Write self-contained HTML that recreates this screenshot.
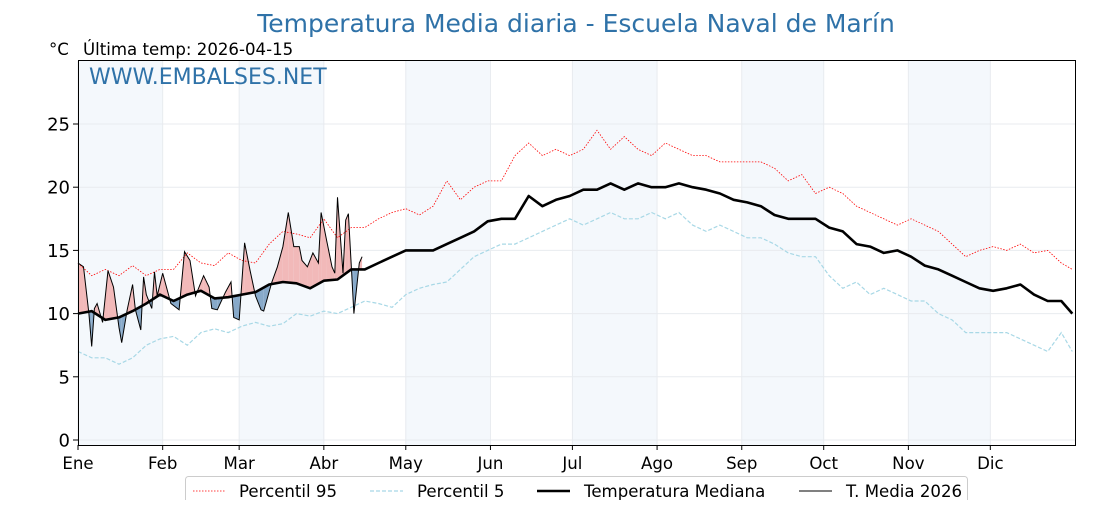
<!DOCTYPE html>
<html><head><meta charset="utf-8"><style>
body{margin:0;background:#fff;}
svg text{font-family:"DejaVu Sans","Liberation Sans",sans-serif;}
</style></head><body>
<svg id="chart" width="1120" height="500" xmlns="http://www.w3.org/2000/svg">
<text x="576" y="32" text-anchor="middle" font-size="25" fill="#2f72a8">Temperatura Media diaria - Escuela Naval de Marín</text>
<text x="49" y="55" font-size="16.6" fill="#000">°C</text>
<text x="83" y="55" font-size="16.6" fill="#000">Última temp: 2026-04-15</text>
<g id="bands"></g><g id="grid"></g><g id="fills"></g><g id="lines"></g>
<text x="89" y="84" font-size="22" fill="#2f72a8">WWW.EMBALSES.NET</text>
<rect x="78.5" y="60.5" width="997" height="385" fill="none" stroke="#000" stroke-width="1"/>
<g id="axes"></g>
<g>
<rect x="185.5" y="476.5" width="782" height="30" rx="3" fill="#fff" stroke="#ccc"/>
<g><line x1="193" y1="491" x2="225" y2="491" stroke="red" stroke-width="0.8" stroke-dasharray="1.5,1.5"/><text x="239" y="497" font-size="16.6">Percentil 95</text></g>
<g><line x1="370" y1="491" x2="403" y2="491" stroke="#a8d8e6" stroke-width="1.2" stroke-dasharray="4,2"/><text x="417" y="497" font-size="16.6">Percentil 5</text></g>
<g><line x1="537" y1="491" x2="570" y2="491" stroke="#000" stroke-width="2.6"/><text x="584" y="497" font-size="16.6">Temperatura Mediana</text></g>
<g><line x1="799" y1="491" x2="832" y2="491" stroke="#000" stroke-width="1"/><text x="846" y="497" font-size="16.6">T. Media 2026</text></g>
</g>
</svg>
<script>
const months=["Ene","Feb","Mar","Abr","May","Jun","Jul","Ago","Sep","Oct","Nov","Dic"];
const monthStarts=[0,31,59,90,120,151,181,212,243,273,304,334];
const yTicks=[0,5,10,15,20,25];
const step=5;
const median=[10.0,10.2,9.5,9.7,10.2,10.8,11.5,11.0,11.5,11.8,11.2,11.3,11.5,11.7,12.3,12.5,12.4,12.0,12.6,12.7,13.5,13.5,14.0,14.5,15.0,15.0,15.0,15.5,16.0,16.5,17.3,17.5,17.5,19.3,18.5,19.0,19.3,19.8,19.8,20.3,19.8,20.3,20.0,20.0,20.3,20.0,19.8,19.5,19.0,18.8,18.5,17.8,17.5,17.5,17.5,16.8,16.5,15.5,15.3,14.8,15.0,14.5,13.8,13.5,13.0,12.5,12.0,11.8,12.0,12.3,11.5,11.0,11.0,10.0];
const p95=[14,13,13.5,13,13.8,13,13.5,13.5,14.8,14.0,13.8,14.8,14.2,14.0,15.5,16.5,16.3,16.0,17.5,16.0,16.8,16.8,17.5,18.0,18.3,17.8,18.5,20.5,19.0,20.0,20.5,20.5,22.5,23.5,22.5,23.0,22.5,23.0,24.5,23.0,24.0,23.0,22.5,23.5,23.0,22.5,22.5,22.0,22.0,22.0,22.0,21.5,20.5,21.0,19.5,20.0,19.5,18.5,18.0,17.5,17.0,17.5,17.0,16.5,15.5,14.5,15.0,15.3,15.0,15.5,14.8,15.0,14.0,13.5];
const p5=[7,6.5,6.5,6,6.5,7.5,8.0,8.2,7.5,8.5,8.8,8.5,9.0,9.3,9.0,9.2,10.0,9.8,10.2,10.0,10.5,11.0,10.8,10.5,11.5,12.0,12.3,12.5,13.5,14.5,15.0,15.5,15.5,16.0,16.5,17.0,17.5,17.0,17.5,18.0,17.5,17.5,18.0,17.5,18.0,17.0,16.5,17.0,16.5,16.0,16.0,15.5,14.8,14.5,14.5,13.0,12.0,12.5,11.5,12.0,11.5,11.0,11.0,10.0,9.5,8.5,8.5,8.5,8.5,8.0,7.5,7.0,8.5,7.0];
const days2026=[0,2,4,5,6,7,9,11,13,15,16,18,20,21,23,24,25,27,28,29,31,34,37,39,41,43,46,48,49,51,54,56,57,59,61,63,65,67,68,71,73,75,77,79,81,82,84,86,88,89,91,93,94,95,97,98,99,101,103,104];
const t2026=[14.0,13.7,10.0,7.4,10.4,10.8,9.3,13.4,12.1,8.9,7.7,10.3,12.3,10.3,8.7,12.9,11.5,10.4,13.3,11.4,13.2,10.8,10.3,14.9,14.2,11.4,13.0,12.1,10.4,10.3,11.7,12.5,9.7,9.5,15.6,13.4,11.4,10.3,10.2,12.5,13.7,15.3,18.0,15.3,15.3,14.2,13.7,14.8,14.0,18.0,15.8,13.7,13.2,19.2,13.2,17.4,17.9,10.0,14.0,14.5];

const NS="http://www.w3.org/2000/svg";
const X=d=>78+d*997/365;
const Y=v=>440-v*12.64;
function mk(tag,attrs,parent){const e=document.createElementNS(NS,tag);for(const k in attrs)e.setAttribute(k,attrs[k]);document.getElementById(parent).appendChild(e);return e;}
monthStarts.forEach((m,i)=>{if(i%2===0){const end=i+1<12?monthStarts[i+1]:365;
const r=mk('rect',{x:X(m),y:61,width:X(end)-X(m),height:384,fill:'#f4f8fc'},'bands');

}});
yTicks.forEach(t=>{const l=mk('line',{x1:78,x2:1075,y1:Y(t),y2:Y(t),stroke:'#e8ebef','stroke-width':1},'grid');


const tk=mk('line',{x1:73,x2:78,y1:Y(t),y2:Y(t),stroke:'#000'},'axes');


const tx=mk('text',{x:70,y:Y(t)+6.5,'text-anchor':'end','font-size':18},'axes');tx.textContent=t;

});
monthStarts.forEach((m,i)=>{const l=mk('line',{x1:X(m),x2:X(m),y1:61,y2:445,stroke:'#e8ebef'},'grid');


const tk=mk('line',{x1:X(m),x2:X(m),y1:445,y2:450,stroke:'#000'},'axes');


const tx=mk('text',{x:X(m),y:469,'text-anchor':'middle','font-size':16.6},'axes');tx.textContent=months[i];

});
function med(d){const i=Math.min(Math.floor(d/step),median.length-2);const f=(d-i*step)/step;return median[i]+(median[i+1]-median[i])*f;}
function path(xs,vs){return xs.map((d,i)=>(i?'L':'M')+X(d).toFixed(1)+','+Y(vs[i]).toFixed(1)).join(' ');}
const sd=median.map((_,i)=>Math.min(i*step,364));
for(let i=0;i<days2026.length-1;i++){
 const d0=days2026[i],d1=days2026[i+1],a0=t2026[i]-med(d0),a1=t2026[i+1]-med(d1);
 const segs=[];
 if(a0*a1<0){const dc=d0+(d1-d0)*a0/(a0-a1);const vc=med(dc);segs.push([d0,t2026[i],dc,vc,a0]);segs.push([dc,vc,d1,t2026[i+1],a1]);}
 else segs.push([d0,t2026[i],d1,t2026[i+1],a0+a1]);
 segs.forEach(s=>{const p=`M${X(s[0])},${Y(s[1])} L${X(s[2])},${Y(s[3])} L${X(s[2])},${Y(med(s[2]))} L${X(s[0])},${Y(med(s[0]))}Z`;
 const e=mk('path',{d:p,fill:s[4]>=0?'#f2b9b9':'#87a9c9',stroke:'none'},'fills');
 
 });
}
let e=mk('path',{d:path(sd,p95),fill:'none',stroke:'red','stroke-width':0.8,'stroke-dasharray':'1.5,1.5'},'lines');


e=mk('path',{d:path(sd,p5),fill:'none',stroke:'#a8d8e6','stroke-width':1.2,'stroke-dasharray':'4,2'},'lines');


e=mk('path',{d:path(sd,median),fill:'none',stroke:'#000','stroke-width':2.6,'stroke-linejoin':'round'},'lines');


e=mk('path',{d:path(days2026,t2026),fill:'none',stroke:'#000','stroke-width':1},'lines');


</script>
</body></html>
